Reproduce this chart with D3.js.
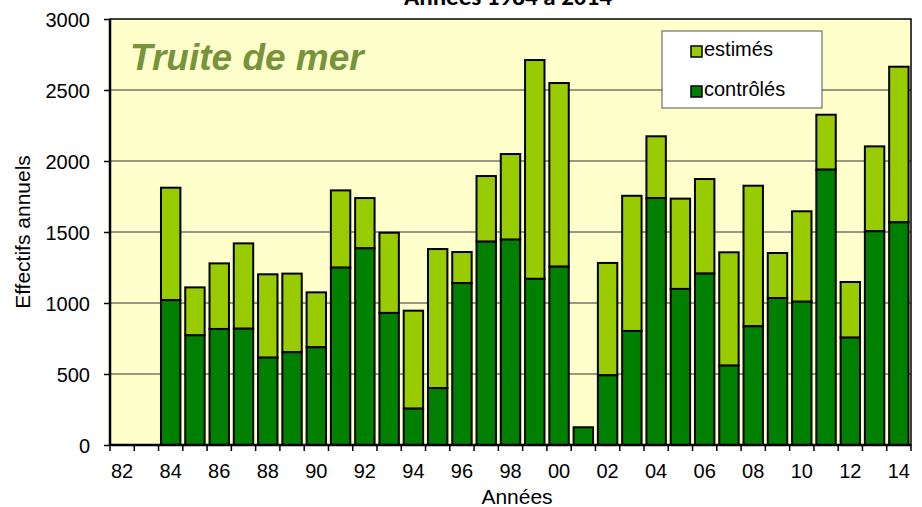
<!DOCTYPE html>
<html>
<head>
<meta charset="utf-8">
<script src="https://cdn.jsdelivr.net/npm/d3@7"></script>
<style>
  body { margin: 0; background: #fff; }
  text { font-family: Arial, "Liberation Sans", sans-serif; }
</style>
</head>
<body>
<div id="chart"></div>
<script>
// data
var years = ["82","83","84","85","86","87","88","89","90","91","92","93","94","95","96","97",
             "98","99","00","01","02","03","04","05","06","07","08","09","10","11","12","13","14"];
var controles = [0,0,1020,772,817,819,615,653,688,1249,1385,930,256,401,1140,1432,
                 1446,1170,1256,125,491,803,1739,1099,1207,559,836,1035,1009,1939,756,1505,1568];
var totaux = [0,0,1812,1110,1279,1420,1202,1207,1075,1793,1739,1495,946,1380,1359,1894,
              2049,2711,2549,125,1282,1755,2174,1735,1873,1357,1826,1352,1646,2326,1148,2103,2664];
var yTicks = [0,500,1000,1500,2000,2500,3000];

var margin = {top: 19, right: 11, bottom: 62, left: 110};
var width = 922 - margin.left - margin.right;
var height = 507 - margin.top - margin.bottom;

var svg = d3.select("#chart").append("svg")
  .attr("width", 922).attr("height", 507);

var g = svg.append("g")
  .attr("transform", "translate(" + margin.left + "," + margin.top + ")");

var x = d3.scaleBand().domain(years).range([0, width]).paddingInner(0.2).paddingOuter(0.1);
var y = d3.scaleLinear().domain([0, 3000]).range([height, 0]);

// plot background
g.append("rect").attr("width", width).attr("height", height).attr("fill", "#FFFFCC");

// gridlines
g.selectAll(".grid").data(yTicks.slice(1, -1)).enter().append("line")
  .attr("x1", 0).attr("x2", width)
  .attr("y1", function (d) { return y(d); }).attr("y2", function (d) { return y(d); })
  .attr("stroke", "#333").attr("stroke-width", 1);

// title (cut off at top, as in the original)
svg.append("text").attr("x", 508).attr("y", 5).attr("text-anchor", "middle")
  .style("font-family", "Carlito, Calibri, 'Liberation Sans', sans-serif")
  .style("font-weight", "bold").style("font-size", "25px")
  .text("Années 1984 à 2014");

g.append("text").attr("x", 20).attr("y", 51)
  .style("font-weight", "bold").style("font-style", "italic")
  .style("font-size", "37px").attr("fill", "#77933C")
  .text("Truite de mer");

// bars
var step = x.step();
var cols = g.append("g").selectAll("g").data(years).enter().append("g");

cols.append("rect")
  .attr("x", function (d) { return x(d); })
  .attr("width", x.bandwidth())
  .attr("y", function (d, i) { return y(totaux[i]); })
  .attr("height", function (d, i) { return y(controles[i]) - y(totaux[i]); })
  .attr("fill", "#99CC00").attr("stroke", "#000").attr("stroke-width", 2)
  .style("display", function (d, i) { return totaux[i] > controles[i] ? null : "none"; });

cols.append("rect")
  .attr("x", function (d) { return x(d); })
  .attr("width", x.bandwidth())
  .attr("y", function (d, i) { return y(controles[i]); })
  .attr("height", function (d, i) { return height - y(controles[i]); })
  .attr("fill", "#008000").attr("stroke", "#000").attr("stroke-width", 2)
  .style("display", function (d, i) { return controles[i] > 0 ? null : "none"; });

// frame
g.append("rect").attr("width", width).attr("height", height)
  .attr("fill", "none").attr("stroke", "#000").attr("stroke-width", 1.5);
g.append("line").attr("x1", 0).attr("x2", 0).attr("y1", 0).attr("y2", height)
  .attr("stroke", "#000").attr("stroke-width", 2.5);
g.append("line").attr("x1", 0).attr("x2", width).attr("y1", height).attr("y2", height)
  .attr("stroke", "#000").attr("stroke-width", 2.5);

// y axis
var yAxis = d3.axisLeft(y).tickValues(yTicks).tickFormat(d3.format("d")).tickSize(6).tickPadding(14);
var ya = g.append("g").call(yAxis);
ya.select(".domain").remove();
ya.selectAll("line").attr("stroke", "#000").attr("stroke-width", 1.5);
ya.selectAll("text").style("font-size", "20px").style("font-family", "Arial, 'Liberation Sans', sans-serif")
  .attr("fill", "#000").attr("dy", "0.36em");

// x axis: ticks at category boundaries, labels every other year
var xa = g.append("g").attr("transform", "translate(0," + height + ")");
xa.selectAll("line").data(d3.range(years.length + 1)).enter().append("line")
  .attr("x1", function (i) { return i * step; }).attr("x2", function (i) { return i * step; })
  .attr("y1", 0).attr("y2", 6).attr("stroke", "#000").attr("stroke-width", 1.5);
xa.selectAll("text").data(years.filter(function (d, i) { return i % 2 === 0; })).enter().append("text")
  .attr("x", function (d) { return x(d) + x.bandwidth() / 2; })
  .attr("y", 33).attr("text-anchor", "middle")
  .style("font-size", "20px").text(function (d) { return d; });

// axis titles
svg.append("text").attr("x", 517).attr("y", 504)
  .attr("text-anchor", "middle").style("font-size", "21px").text("Années");
svg.append("text").attr("transform", "translate(30," + (margin.top + height / 2) + ") rotate(-90)")
  .attr("text-anchor", "middle").style("font-size", "21px").text("Effectifs annuels");

// legend
var leg = svg.append("g").attr("transform", "translate(662,31)");
leg.append("rect").attr("width", 160).attr("height", 77)
  .attr("fill", "#fff").attr("stroke", "#555").attr("stroke-width", 1);
var items = [{label: "estimés", color: "#99CC00"}, {label: "contrôlés", color: "#008000"}];
var li = leg.selectAll(".li").data(items).enter().append("g")
  .attr("transform", function (d, i) { return "translate(29," + (25 + i * 40) + ")"; });
li.append("rect").attr("x", 0).attr("y", -10).attr("width", 11).attr("height", 11)
  .attr("fill", function (d) { return d.color; }).attr("stroke", "#000").attr("stroke-width", 1.5);
li.append("text").attr("x", 13).attr("y", 0).style("font-size", "20px").text(function (d) { return d.label; });
</script>
</body>
</html>
